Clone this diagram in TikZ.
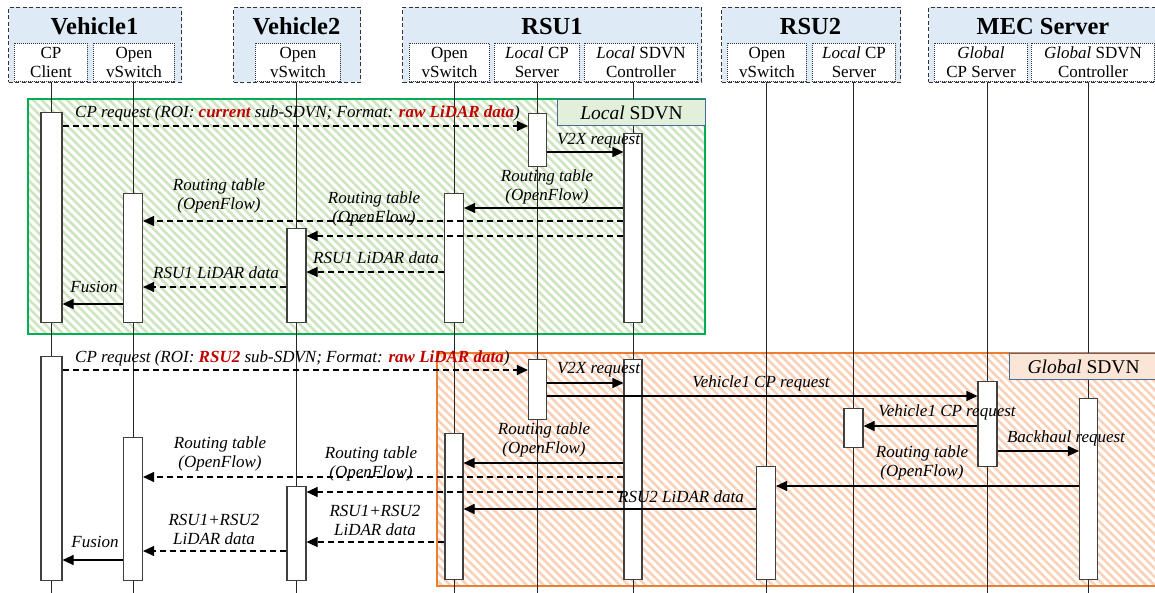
\documentclass[tikz,border=0pt]{standalone}
\usepackage{fontspec}
\setmainfont{Liberation Serif}
\usetikzlibrary{arrows.meta,patterns.meta}
\definecolor{hdrblue}{RGB}{222,235,247}
\definecolor{gborder}{RGB}{0,176,80}
\definecolor{ghatch}{RGB}{205,228,190}
\definecolor{oborder}{RGB}{237,125,49}
\definecolor{ohatch}{RGB}{249,208,182}
\definecolor{lgfill}{RGB}{226,239,218}
\definecolor{pfill}{RGB}{251,229,214}
\definecolor{lblborder}{RGB}{70,105,150}
\definecolor{hired}{RGB}{192,0,0}
\newcommand\hlred[1]{\textbf{\color{hired}#1}}
\begin{document}
\begin{tikzpicture}[x=1pt,y=-1pt,
  hdr/.style={draw=black!80, line width=1pt, dash pattern=on 4pt off 2.5pt, fill=hdrblue, anchor=north west, inner sep=0pt, minimum height=75pt},
  sub/.style={draw=black!80, line width=0.9pt, dash pattern=on 1pt off 1pt, fill=white, anchor=north west, inner sep=0pt, minimum height=38pt, align=center, font=\fontsize{17}{19}\selectfont},
  title/.style={font=\fontsize{24.5}{26}\selectfont\bfseries, anchor=base, inner sep=0pt},
  act/.style={draw=black!75, fill=white, line width=1.1pt, minimum width=19pt, inner sep=0pt, anchor=north},
  life/.style={line width=1pt, black!85},
  msg/.style={line width=1.1pt, -{Triangle[length=11pt,width=10pt]}},
  dmsg/.style={msg, dash pattern=on 6pt off 4pt},
  lbl/.style={font=\fontsize{17}{18.5}\selectfont\itshape, align=center, inner sep=0pt},
  sdvn/.style={draw=lblborder, line width=1.1pt, anchor=north west, inner sep=0pt, minimum height=26pt, font=\fontsize{19.5}{21}\selectfont}
]
\useasboundingbox (0,0) rectangle (1155,593);
\clip (0,0) rectangle (1155,593);

% regions
\fill[white] (0,0) rectangle (1155,593);
\draw[gborder, line width=1.8pt, pattern={Lines[angle=-45,distance=6pt,line width=2.5pt]}, pattern color=ghatch] (28,99) rectangle (705,334);
\draw[oborder, line width=1.8pt, pattern={Lines[angle=-45,distance=6pt,line width=2.5pt]}, pattern color=ohatch] (437,353) rectangle (1162,586);

% headers
\node[hdr, minimum width=173pt] (V1) at (8,7) {};
\node[hdr, minimum width=127pt] (V2) at (233,7) {};
\node[hdr, minimum width=299pt] (R1) at (402,7) {};
\node[hdr, minimum width=179pt] (R2) at (721,7) {};
\node[hdr, minimum width=232pt] (MEC) at (928,7) {};
\node[title] (V1t) at (94.5,35) {Vehicle1};
\node[title] (V2t) at (296.5,35) {Vehicle2};
\node[title] (R1t) at (552,35) {RSU1};
\node[title] (R2t) at (810.5,35) {RSU2};
\node[title] (MECt) at (1043,35) {MEC Server};

\node[sub, minimum width=73pt] (cpcH) at (14,43) {CP\\Client};
\node[sub, minimum width=81pt] (v1ovsH) at (93,43) {Open\\vSwitch};
\node[sub, minimum width=85pt] (v2ovsH) at (255,43) {Open\\vSwitch};
\node[sub, minimum width=80pt] (r1ovsH) at (409,43) {Open\\vSwitch};
\node[sub, minimum width=85pt] (r1cpH) at (494,43) {\textit{Local} CP\\Server};
\node[sub, minimum width=113pt] (r1ctrlH) at (584,43) {\textit{Local} SDVN\\Controller};
\node[sub, minimum width=79pt] (r2ovsH) at (727,43) {Open\\vSwitch};
\node[sub, minimum width=83pt] (r2cpH) at (812,43) {\textit{Local} CP\\Server};
\node[sub, minimum width=93pt] (gcpH) at (934,43) {\textit{Global}\\CP Server};
\node[sub, minimum width=123pt] (gctrlH) at (1031,43) {\textit{Global} SDVN\\Controller};

% lifeline anchors (x positions)
\coordinate (xcpc) at (51.5,0);
\coordinate (xv1) at (133,0);
\coordinate (xv2) at (296.5,0);
\coordinate (xr1ovs) at (454,0);
\coordinate (xr1cp) at (537.5,0);
\coordinate (xr1ctrl) at (633,0);
\coordinate (xr2ovs) at (766,0);
\coordinate (xr2cp) at (853.5,0);
\coordinate (xgcp) at (987.5,0);
\coordinate (xgctrl) at (1088.5,0);

% lifelines
\foreach \h/\x in {cpcH/xcpc, v1ovsH/xv1, v2ovsH/xv2, r1ovsH/xr1ovs, r1cpH/xr1cp, r1ctrlH/xr1ctrl, r2ovsH/xr2ovs, r2cpH/xr2cp, gcpH/xgcp, gctrlH/xgctrl}
  \draw[life] (\h.south -| \x) -- (\x |- 0,595);

% SDVN labels
\node[sdvn, fill=lgfill, minimum width=148pt] (localL) at (557,99) {\textit{Local} SDVN};
\node[sdvn, fill=pfill, minimum width=148pt] (globalL) at (1009,353) {\textit{Global} SDVN};

% activation boxes - local
\node[act, minimum width=21pt, minimum height=210pt] (cpcA) at (xcpc |- 0,112) {};
\node[act, minimum width=18pt, minimum height=53pt] (r1cpA) at (xr1cp |- 0,113) {};
\node[act, minimum width=18pt, minimum height=189pt] (r1ctrlA) at (xr1ctrl |- 0,133) {};
\node[act, minimum height=129pt] (v1ovsA) at (xv1 |- 0,193) {};
\node[act, minimum height=94pt] (v2ovsA) at (xv2 |- 0,228) {};
\node[act, minimum height=129pt] (r1ovsA) at (xr1ovs |- 0,193) {};
% activation boxes - global
\node[act, minimum width=21pt, minimum height=224pt] (cpcB) at (xcpc |- 0,356) {};
\node[act, minimum width=18pt, minimum height=60pt] (r1cpB) at (xr1cp |- 0,359) {};
\node[act, minimum width=18pt, minimum height=220pt] (r1ctrlB) at (xr1ctrl |- 0,359) {};
\node[act, minimum height=85pt] (gcpB) at (xgcp |- 0,381) {};
\node[act, minimum height=39pt] (r2cpB) at (xr2cp |- 0,408) {};
\node[act, minimum width=18pt, minimum height=181pt] (gctrlB) at (xgctrl |- 0,398) {};
\node[act, minimum height=113pt] (r2ovsB) at (xr2ovs |- 0,466) {};
\node[act, minimum width=18pt, minimum height=146pt] (r1ovsB) at (xr1ovs |- 0,433) {};
\node[act, minimum height=143pt] (v1ovsB) at (xv1 |- 0,437) {};
\node[act, minimum height=94pt] (v2ovsB) at (xv2 |- 0,486) {};

% messages - local
\draw[dmsg] (cpcA.east |- 0,126) -- (r1cpA.west |- 0,126);
\draw[msg] (r1cpA.east |- 0,152) -- (r1ctrlA.west |- 0,152);
\draw[msg] (r1ctrlA.west |- 0,208) -- (r1ovsA.east |- 0,208);
\draw[dmsg] (r1ctrlA.west |- 0,221) -- (v1ovsA.east |- 0,221);
\draw[dmsg] (r1ctrlA.west |- 0,236) -- (v2ovsA.east |- 0,236);
\draw[dmsg] (r1ovsA.west |- 0,272) -- (v2ovsA.east |- 0,272);
\draw[dmsg] (v2ovsA.west |- 0,287) -- (v1ovsA.east |- 0,287);
\draw[msg] (v1ovsA.west |- 0,304) -- (cpcA.east |- 0,304);
% messages - global
\draw[dmsg] (cpcB.east |- 0,370) -- (r1cpB.west |- 0,370);
\draw[msg] (r1cpB.east |- 0,383) -- (r1ctrlB.west |- 0,383);
\draw[msg] (r1cpB.east |- 0,396) -- (gcpB.west |- 0,396);
\draw[msg] (gcpB.west |- 0,426) -- (r2cpB.east |- 0,426);
\draw[msg] (gcpB.east |- 0,451) -- (gctrlB.west |- 0,451);
\draw[msg] (r1ctrlB.west |- 0,463) -- (r1ovsB.east |- 0,463);
\draw[dmsg] (r1ctrlB.west |- 0,477) -- (v1ovsB.east |- 0,477);
\draw[msg] (gctrlB.west |- 0,486) -- (r2ovsB.east |- 0,486);
\draw[dmsg] (r1ctrlB.west |- 0,492) -- (v2ovsB.east |- 0,492);
\draw[msg] (r2ovsB.west |- 0,509) -- (r1ovsB.east |- 0,509);
\draw[dmsg] (r1ovsB.west |- 0,542) -- (v2ovsB.east |- 0,542);
\draw[dmsg] (v2ovsB.west |- 0,551) -- (v1ovsB.east |- 0,551);
\draw[msg] (v1ovsB.west |- 0,560) -- (cpcB.east |- 0,560);

% labels - local
\node[lbl, anchor=base west] (l1) at (75,118) {CP request (ROI: \hlred{current} sub-SDVN; Format: \hlred{raw LiDAR data})};
\node[lbl, anchor=base] (l2) at (598.5,145) {V2X request};
\node[lbl] (l3) at (547,186.7) {Routing table\\(OpenFlow)};
\node[lbl] (l4) at (219,196) {Routing table\\(OpenFlow)};
\node[lbl] (l5) at (374,209) {Routing table\\(OpenFlow)};
\node[lbl, anchor=base] (l6) at (376,264) {RSU1 LiDAR data};
\node[lbl, anchor=base] (l7) at (216,279) {RSU1 LiDAR data};
\node[lbl, anchor=base] (l8) at (94,292) {Fusion};
% labels - global
\node[lbl, anchor=base west] (g1) at (75,362) {CP request (ROI: \hlred{RSU2} sub-SDVN; Format: \hlred{raw LiDAR data})};
\node[lbl, anchor=base] (g2) at (598.5,373) {V2X request};
\node[lbl, anchor=base] (g3) at (761,387) {Vehicle1 CP request};
\node[lbl, anchor=base] (g4) at (947,416) {Vehicle1 CP request};
\node[lbl, anchor=base] (g5) at (1066,442) {Backhaul request};
\node[lbl] (g6) at (922,462.7) {Routing table\\(OpenFlow)};
\node[lbl, anchor=base] (g7) at (681,502) {RSU2 LiDAR data};
\node[lbl] (g8) at (544,439.7) {Routing table\\(OpenFlow)};
\node[lbl] (g9) at (220,453.7) {Routing table\\(OpenFlow)};
\node[lbl] (g10) at (371,463.7) {Routing table\\(OpenFlow)};
\node[lbl] (g11) at (375,520.7) {RSU1+RSU2\\LiDAR data};
\node[lbl] (g12) at (214,529.7) {RSU1+RSU2\\LiDAR data};
\node[lbl, anchor=base] (g13) at (95,547) {Fusion};
\end{tikzpicture}
\end{document}
